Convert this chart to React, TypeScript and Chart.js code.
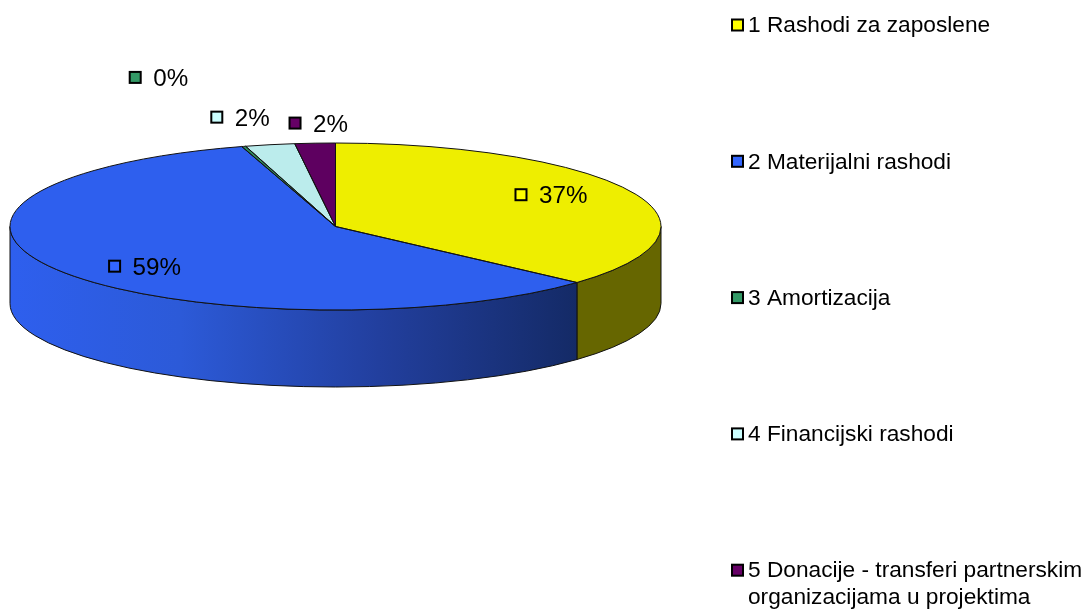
import React, { useEffect, useRef } from "react";
import { Chart, registerables } from "chart.js";

Chart.register(...registerables);

const categories = [
  "1 Rashodi za zaposlene",
  "2 Materijalni rashodi",
  "3 Amortizacija",
  "4 Financijski rashodi",
  ["5 Donacije - transferi partnerskim", "organizacijama u projektima"],
];
const values = [36.7, 58.65, 0.2, 2.45, 2.0];
const sliceColors = ["#eeee00", "#2e5fee", "#2e8b5e", "#bbecec", "#5e0060"];
const swatchColors = ["#ffff00", "#3366ff", "#339966", "#ccffff", "#660066"];
const sideColors = ["#666600", "#2e5fee", "#1a5a3a", "#7fa0a0", "#3a003c"];

const FONT = '"Liberation Sans", Arial, sans-serif';
const PIE = { cx: 335.5, cy: 226.5, rx: 325.5, ry: 83.5, depth: 77 };
const LEGEND = { boxX: 731, boxSize: 13, textX: 748, firstY: 25, step: 136.3, lineH: 27, font: 22.7 };
const LABEL = { size: 13, gap: 18, font: 24.2 };
// radial factors (horizontal, vertical) of each value label relative to the rim
const labelFactors = [
  [0.6235, 0.938],
  [0.803, 0.889],
  [2.182, 1.861],
  [1.812, 1.337],
  [1.98, 1.241],
];

function piePlugin() {
  const arcsOf = (chart: any) => chart.getDatasetMeta(0).data as any[];
  const ellipse = (ctx: CanvasRenderingContext2D, y: number, a: number, b: number, ccw = false) =>
    ctx.ellipse(PIE.cx, y, PIE.rx, PIE.ry, 0, a, b, ccw);
  return {
    id: "pie3d",
    beforeDatasetsDraw(chart: any) {
      const ctx: CanvasRenderingContext2D = chart.ctx;
      const arcs = arcsOf(chart);
      // extruded rim, lower half only
      arcs.forEach((arc, i) => {
        const a = Math.max(arc.startAngle, 0);
        const b = Math.min(arc.endAngle, Math.PI);
        if (b <= a) return;
        ctx.beginPath();
        ellipse(ctx, PIE.cy, a, b);
        ellipse(ctx, PIE.cy + PIE.depth, b, a, true);
        ctx.closePath();
        if (i === 1) {
          const g = ctx.createLinearGradient(PIE.cx - PIE.rx, 0, 578, 0);
          g.addColorStop(0, "#2e5fee");
          g.addColorStop(0.3, "#2c5ad8");
          g.addColorStop(0.65, "#223f9e");
          g.addColorStop(1, "#142a66");
          ctx.fillStyle = g;
        } else {
          ctx.fillStyle = sideColors[i];
        }
        ctx.fill();
        ctx.strokeStyle = "#111";
        ctx.lineWidth = 1;
        ctx.stroke();
      });
      // squash the library's circular pie into the ellipse of the top face
      const first = arcs[0];
      const R = first.outerRadius;
      ctx.save();
      ctx.translate(PIE.cx, PIE.cy);
      ctx.scale(PIE.rx / R, PIE.ry / R);
      ctx.translate(-first.x, -first.y);
    },
    afterDatasetsDraw(chart: any) {
      const ctx: CanvasRenderingContext2D = chart.ctx;
      ctx.restore();
      const arcs = arcsOf(chart);
      const total = values.reduce((s, v) => s + v, 0);
      ctx.strokeStyle = "#111";
      ctx.lineWidth = 1;
      arcs.forEach((arc) => {
        ctx.beginPath();
        ctx.moveTo(PIE.cx, PIE.cy);
        ellipse(ctx, PIE.cy, arc.startAngle, arc.endAngle);
        ctx.closePath();
        ctx.stroke();
      });
      // value labels
      ctx.textBaseline = "middle";
      ctx.textAlign = "left";
      arcs.forEach((arc, i) => {
        const mid = (arc.startAngle + arc.endAngle) / 2;
        const x = PIE.cx + PIE.rx * labelFactors[i][0] * Math.cos(mid);
        const y = PIE.cy + PIE.ry * labelFactors[i][1] * Math.sin(mid);
        swatch(ctx, x - LABEL.size / 2, y - LABEL.size / 2, LABEL.size, swatchColors[i]);
        ctx.font = `${LABEL.font}px ${FONT}`;
        ctx.fillStyle = "#000";
        ctx.fillText(`${Math.round((values[i] / total) * 100)}%`, x + LABEL.gap, y + 2);
      });
      // legend
      categories.forEach((cat, i) => {
        const y = LEGEND.firstY + i * LEGEND.step;
        swatch(ctx, LEGEND.boxX, y - LEGEND.boxSize / 2, LEGEND.boxSize, swatchColors[i]);
        ctx.font = `${LEGEND.font}px ${FONT}`;
        ctx.fillStyle = "#000";
        const lines = Array.isArray(cat) ? cat : [cat];
        lines.forEach((line, j) => ctx.fillText(line, LEGEND.textX, y + 1 + j * LEGEND.lineH));
      });
    },
  };
}

function swatch(ctx: CanvasRenderingContext2D, x: number, y: number, s: number, color: string) {
  ctx.fillStyle = color;
  ctx.fillRect(x + 1, y + 1, s - 2, s - 2);
  ctx.strokeStyle = "#000";
  ctx.lineWidth = 2;
  ctx.strokeRect(x + 1, y + 1, s - 2, s - 2);
}

export default function App() {
  const ref = useRef<HTMLCanvasElement>(null);
  useEffect(() => {
    if (!ref.current) return;
    const chart = new Chart(ref.current, {
      type: "pie",
      data: {
        labels: categories.map((c) => (Array.isArray(c) ? c.join(" ") : c)),
        datasets: [{ data: values, backgroundColor: sliceColors, borderWidth: 0 }],
      },
      options: {
        responsive: false,
        animation: false,
        layout: { padding: 0 },
        plugins: { legend: { display: false }, tooltip: { enabled: false } },
      },
      plugins: [piePlugin()],
    } as any);
    return () => chart.destroy();
  }, []);
  return (
    <canvas
      ref={ref}
      width={1085}
      height={611}
      style={{ position: "absolute", left: 0, top: 0, background: "#fff" }}
    />
  );
}
